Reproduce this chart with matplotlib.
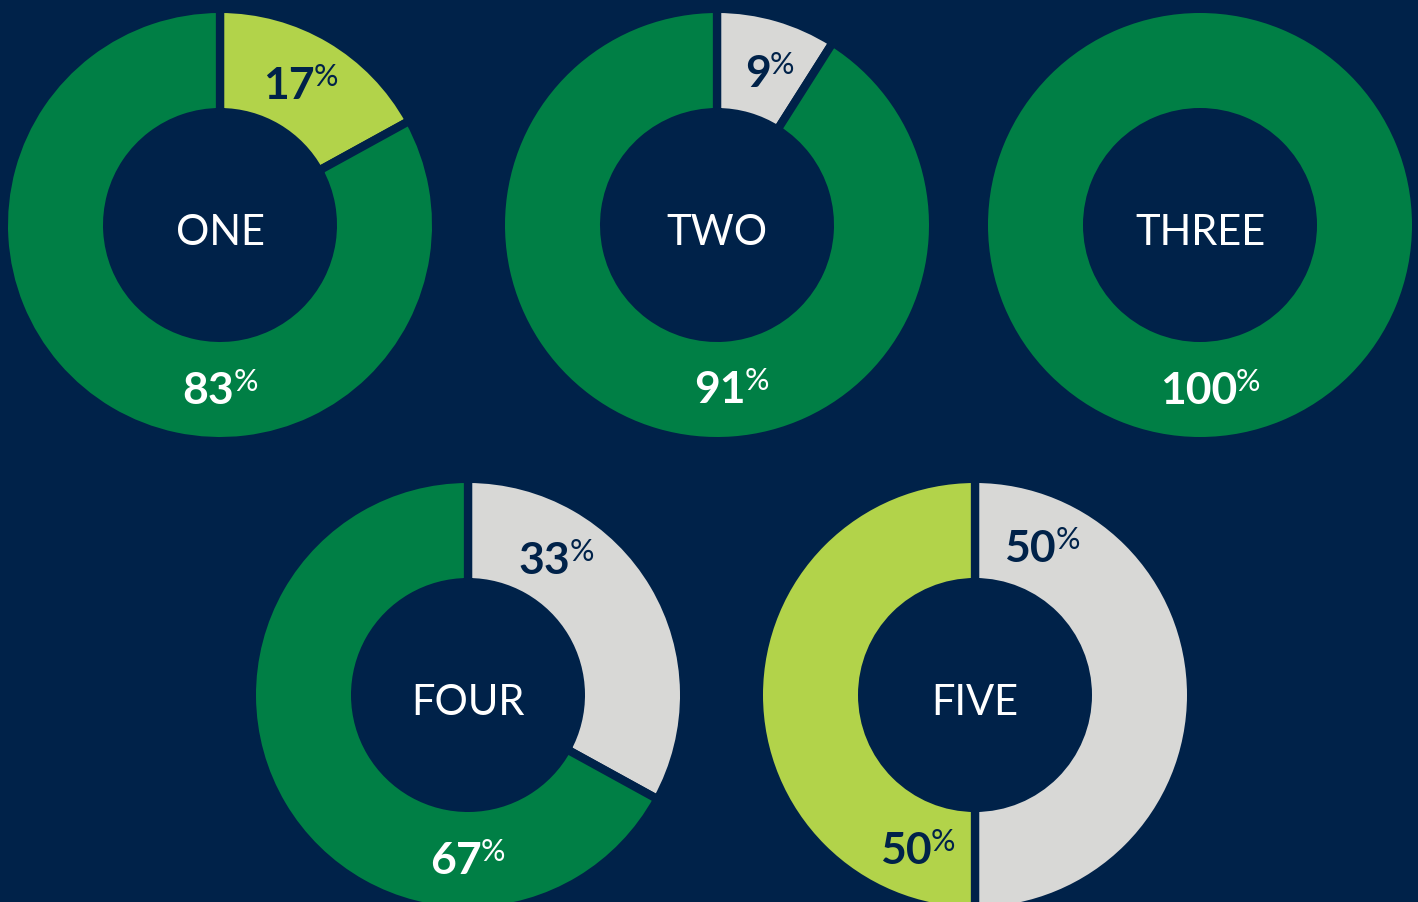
import matplotlib
matplotlib.use('Agg')
import matplotlib.pyplot as plt
import numpy as np

# --- data ---
names = ['ONE', 'TWO', 'THREE', 'FOUR', 'FIVE']
first_share = [17, 9, 0, 33, 50]
second_share = [83, 91, 100, 67, 50]

bg = '#002249'
green = '#007F45'
lime = '#B2D34A'
grey = '#D8D8D6'
first_colors = [lime, grey, grey, grey, grey]
second_colors = [green, green, green, green, lime]

# --- layout (pixels, y measured from the top) ---
W, H = 1418, 902
centers = [(220, 225), (717, 225), (1200, 225), (468, 695), (975, 695)]
label_angles = [(29.5, 180), (18.7, 175), (None, 176.5), (32.7, 180), (24.3, 200.6)]
R_out, R_in, gap = 212, 117, 8.3
label_r = 163

fig = plt.figure(figsize=(W / 100, H / 100), dpi=100)
fig.patch.set_facecolor(bg)
ax = fig.add_axes([0, 0, 1, 1])
ax.set_facecolor(bg)

lw = gap * 72 / 100
for i, name in enumerate(names):
    cx, cy = centers[i][0], H - centers[i][1]
    vals, cols = [], []
    for v, c in ((first_share[i], first_colors[i]), (second_share[i], second_colors[i])):
        if v > 0:
            vals.append(v)
            cols.append(c)
    ax.pie(vals, colors=cols, startangle=90, counterclock=False,
           radius=R_out + gap / 2, center=(cx, cy),
           wedgeprops=dict(width=R_out - R_in + gap, edgecolor=bg, linewidth=lw))
    ax.text(cx, cy - 8, name, ha='center', va='center', color='white',
            fontsize=30, family='Lato')

ax.set_xlim(0, W)
ax.set_ylim(0, H)
ax.set_aspect('equal')
ax.axis('off')

renderer = fig.canvas.get_renderer()


def pct_label(x, y, value, color):
    # big number with a small raised percent sign, centred as one unit
    num = ax.text(x, y - 16, str(value), ha='left', va='baseline', color=color,
                  fontsize=32, family='Lato', fontweight='bold')
    pct = ax.text(x, y - 3, '%', ha='left', va='baseline', color=color,
                  fontsize=22, family='Lato')
    nw = num.get_window_extent(renderer).width
    pw = pct.get_window_extent(renderer).width
    total = nw - 1 + pw
    x0 = x - total / 2
    num.set_x(x0)
    pct.set_x(x0 + nw - 1)


for i in range(len(names)):
    cx, cy = centers[i][0], H - centers[i][1]
    shares = (first_share[i], second_share[i])
    for k in range(2):
        ang = label_angles[i][k]
        if ang is None or shares[k] == 0:
            continue
        a = np.radians(ang)
        lx = cx + label_r * np.sin(a)
        ly = cy + label_r * np.cos(a)
        fill = first_colors[i] if k == 0 else second_colors[i]
        tcolor = 'white' if fill == green else bg
        pct_label(lx, ly, shares[k], tcolor)

fig.savefig('out.png', dpi=100, facecolor=bg)
